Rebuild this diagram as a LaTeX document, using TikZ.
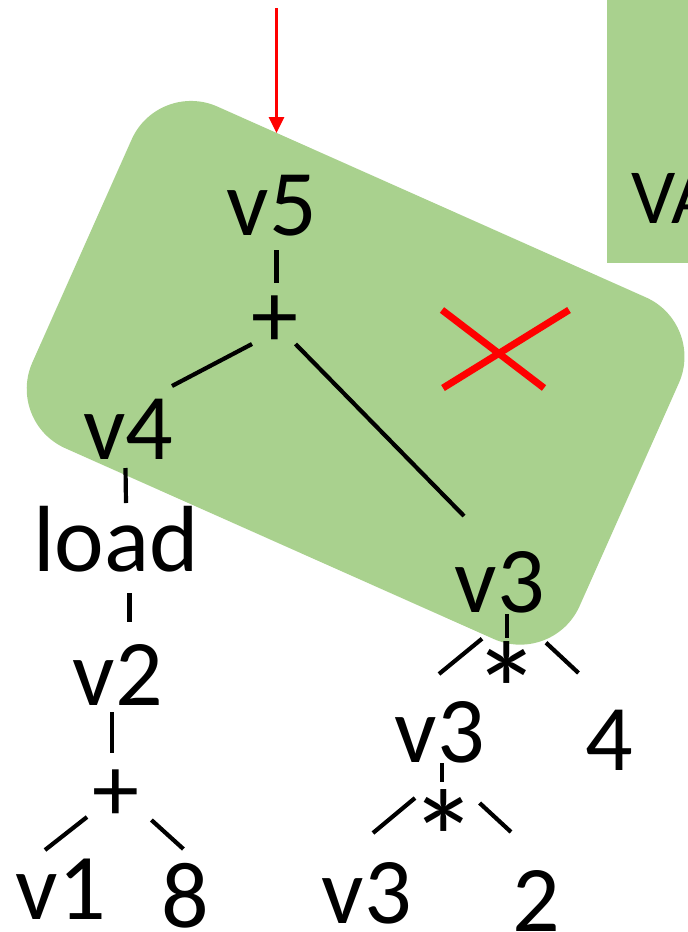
\documentclass[tikz,border=0pt]{standalone}
\usepackage{fontspec}
\setmainfont{Carlito}
\usetikzlibrary{arrows.meta}
\definecolor{boxgreen}{HTML}{A9D18E}
\definecolor{pred}{HTML}{FF0000}
\begin{document}
\begin{tikzpicture}[x=1pt,y=-1pt,
  lbl/.style={inner sep=0pt,outer sep=0pt,anchor=base,font=\fontsize{94}{110}\selectfont},
  opr/.style={inner sep=0pt,outer sep=0pt,anchor=north,font=\fontsize{94}{110}\selectfont},
  star/.style={inner sep=0pt,outer sep=0pt,anchor=north,font=\fontsize{138}{150}\selectfont},
  edge/.style={line width=4.2pt,black},
  cross/.style={line width=7pt,pred}]
\useasboundingbox (0,0) rectangle (688,932);
\begin{scope}
\clip (0,0) rectangle (688,932);
% green regions
\fill[boxgreen] (607,-10) rectangle (700,263);
\fill[boxgreen,rounded corners=65pt,rotate around={-24:(355.6,372.8)}]
  (56.1,185.8) rectangle (655.1,559.8);
\node[inner sep=0pt,anchor=base west,font=\fontsize{78}{90}\selectfont] (va) at (631,223) {VA};
% nodes
\node[lbl] (v5) at (272,235) {v5};
\node[opr] (p1) at (274.5,296) {+};
\node[lbl] (v4) at (128.5,459) {v4};
\node[lbl] (load) at (116,571) {load};
\node[lbl] (v2) at (118,705) {v2};
\node[opr] (p2) at (116,770) {+};
\node[lbl] (v1) at (61,919) {v1};
\node[lbl] (n8) at (185,927) {8};
\node[lbl] (v3a) at (500,612) {v3};
\node[star] (s1) at (507,641.7) {*};
\node[lbl] (v3b) at (440,762) {v3};
\node[lbl] (n4) at (609.5,770) {4};
\node[star] (s2) at (444,790) {*};
\node[lbl] (v3c) at (367,923) {v3};
\node[lbl] (n2) at (536.5,931) {2};
% connectors
\draw[edge] ([shift={(4.5,15)}]v5.base) -- ([shift={(2,-13)}]p1.north);
\draw[edge] ([shift={(-22.5,48)}]p1.north) -- ([shift={(43.5,-73)}]v4.base);
\draw[edge] ([shift={(21,48)}]p1.north) -- ([shift={(-36,-96)}]v3a.base);
\draw[edge] ([shift={(-3,9)}]v4.base) -- ([shift={(10,-68)}]load.base);
\draw[edge] ([shift={(13.5,22)}]load.base) -- ([shift={(11.5,-83.5)}]v2.base);
\draw[edge] ([shift={(-6,7)}]v2.base) -- ([shift={(-4,-17)}]p2.north);
\draw[edge] ([shift={(-29,47)}]p2.north) -- ([shift={(-16,-69)}]v1.base);
\draw[edge] ([shift={(35.4,50)}]p2.north) -- ([shift={(-1.6,-78)}]n8.base);
\draw[edge] ([shift={(6.8,2)}]v3a.base) -- ([shift={(-0.2,-4)}]s1.north);
\draw[edge] ([shift={(-25,-3)}]s1.north) -- ([shift={(-1,-88)}]v3b.base);
\draw[edge] ([shift={(39,1)}]s1.north) -- ([shift={(-31,-97)}]n4.base);
\draw[edge] ([shift={(2.3,1)}]v3b.base) -- ([shift={(-1.7,-8)}]s2.north);
\draw[edge] ([shift={(-29,8)}]s2.north) -- ([shift={(6,-90)}]v3c.base);
\draw[edge] ([shift={(35.6,13)}]s2.north) -- ([shift={(-25.5,-99)}]n2.base);
% red arrow
\coordinate (atop) at (276.5,8);
\coordinate (atip) at (276.5,133);
\draw[pred,line width=3pt,-{Triangle[width=15pt,length=16pt]}] (atop) -- (atip);
% red cross
\draw[cross] (442,310) -- (544,388);
\draw[cross] (569,310) -- (443,388);
\end{scope}
\end{tikzpicture}
\end{document}
